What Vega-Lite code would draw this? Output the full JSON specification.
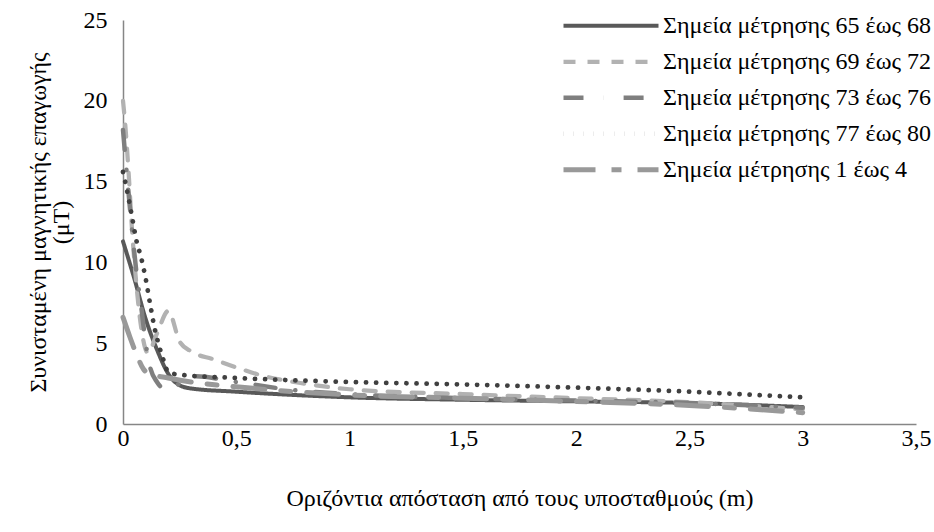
{
  "$schema": "https://vega.github.io/schema/vega-lite/v6.json",
  "autosize": "none",
  "width": 793,
  "height": 404,
  "padding": {"left": 123, "top": 20, "right": 18, "bottom": 108},
  "background": "white",
  "config": {
    "view": {"stroke": null},
    "font": "Liberation Serif",
    "axis": {"grid": false, "ticks": false, "domainColor": "#868686", "domainWidth": 1.5, "labelFont": "Liberation Serif", "titleFont": "Liberation Serif", "labelFontSize": 24, "titleFontSize": 24, "labelColor": "#000", "titleColor": "#000", "titleFontWeight": "normal"},
    "legend": {"labelFont": "Liberation Serif", "labelFontSize": 24, "labelColor": "#000", "labelLimit": 500}
  },
  "data": {"values": [
    {"s": "Σημεία μέτρησης 65 έως 68", "x": 0, "y": 11.3},
    {"s": "Σημεία μέτρησης 65 έως 68", "x": 0.05, "y": 9.0},
    {"s": "Σημεία μέτρησης 65 έως 68", "x": 0.1, "y": 6.5},
    {"s": "Σημεία μέτρησης 65 έως 68", "x": 0.15, "y": 4.6},
    {"s": "Σημεία μέτρησης 65 έως 68", "x": 0.2, "y": 3.1},
    {"s": "Σημεία μέτρησης 65 έως 68", "x": 0.25, "y": 2.4},
    {"s": "Σημεία μέτρησης 65 έως 68", "x": 0.3, "y": 2.2},
    {"s": "Σημεία μέτρησης 65 έως 68", "x": 0.5, "y": 2.0},
    {"s": "Σημεία μέτρησης 65 έως 68", "x": 1, "y": 1.65},
    {"s": "Σημεία μέτρησης 65 έως 68", "x": 1.5, "y": 1.5},
    {"s": "Σημεία μέτρησης 65 έως 68", "x": 2, "y": 1.4},
    {"s": "Σημεία μέτρησης 65 έως 68", "x": 2.5, "y": 1.3},
    {"s": "Σημεία μέτρησης 65 έως 68", "x": 3, "y": 1.05},
    {"s": "Σημεία μέτρησης 69 έως 72", "x": 0, "y": 20},
    {"s": "Σημεία μέτρησης 69 έως 72", "x": 0.01, "y": 18.5},
    {"s": "Σημεία μέτρησης 69 έως 72", "x": 0.025, "y": 15.5},
    {"s": "Σημεία μέτρησης 69 έως 72", "x": 0.04, "y": 12.0},
    {"s": "Σημεία μέτρησης 69 έως 72", "x": 0.06, "y": 8.5},
    {"s": "Σημεία μέτρησης 69 έως 72", "x": 0.08, "y": 6.0},
    {"s": "Σημεία μέτρησης 69 έως 72", "x": 0.11, "y": 4.4},
    {"s": "Σημεία μέτρησης 69 έως 72", "x": 0.15, "y": 5.6},
    {"s": "Σημεία μέτρησης 69 έως 72", "x": 0.2, "y": 7.0},
    {"s": "Σημεία μέτρησης 69 έως 72", "x": 0.25, "y": 5.1},
    {"s": "Σημεία μέτρησης 69 έως 72", "x": 0.3, "y": 4.5},
    {"s": "Σημεία μέτρησης 69 έως 72", "x": 0.4, "y": 4.0},
    {"s": "Σημεία μέτρησης 69 έως 72", "x": 0.5, "y": 3.5},
    {"s": "Σημεία μέτρησης 69 έως 72", "x": 0.6, "y": 3.05},
    {"s": "Σημεία μέτρησης 69 έως 72", "x": 0.8, "y": 2.5},
    {"s": "Σημεία μέτρησης 69 έως 72", "x": 1, "y": 2.15},
    {"s": "Σημεία μέτρησης 69 έως 72", "x": 1.5, "y": 1.85},
    {"s": "Σημεία μέτρησης 69 έως 72", "x": 2, "y": 1.6},
    {"s": "Σημεία μέτρησης 69 έως 72", "x": 2.5, "y": 1.35},
    {"s": "Σημεία μέτρησης 69 έως 72", "x": 3, "y": 0.9},
    {"s": "Σημεία μέτρησης 73 έως 76", "x": 0, "y": 18.2},
    {"s": "Σημεία μέτρησης 73 έως 76", "x": 0.02, "y": 15.0},
    {"s": "Σημεία μέτρησης 73 έως 76", "x": 0.04, "y": 12.0},
    {"s": "Σημεία μέτρησης 73 έως 76", "x": 0.06, "y": 9.3},
    {"s": "Σημεία μέτρησης 73 έως 76", "x": 0.08, "y": 7.3},
    {"s": "Σημεία μέτρησης 73 έως 76", "x": 0.1, "y": 5.0},
    {"s": "Σημεία μέτρησης 73 έως 76", "x": 0.12, "y": 3.5},
    {"s": "Σημεία μέτρησης 73 έως 76", "x": 0.15, "y": 2.6},
    {"s": "Σημεία μέτρησης 73 έως 76", "x": 0.18, "y": 2.2},
    {"s": "Σημεία μέτρησης 73 έως 76", "x": 0.21, "y": 2.2},
    {"s": "Σημεία μέτρησης 73 έως 76", "x": 0.25, "y": 2.5},
    {"s": "Σημεία μέτρησης 73 έως 76", "x": 0.32, "y": 2.95},
    {"s": "Σημεία μέτρησης 73 έως 76", "x": 0.5, "y": 2.6},
    {"s": "Σημεία μέτρησης 73 έως 76", "x": 0.75, "y": 2.1},
    {"s": "Σημεία μέτρησης 73 έως 76", "x": 1, "y": 1.85},
    {"s": "Σημεία μέτρησης 73 έως 76", "x": 1.5, "y": 1.6},
    {"s": "Σημεία μέτρησης 73 έως 76", "x": 2, "y": 1.45},
    {"s": "Σημεία μέτρησης 73 έως 76", "x": 2.5, "y": 1.3},
    {"s": "Σημεία μέτρησης 73 έως 76", "x": 3, "y": 1.0},
    {"s": "Σημεία μέτρησης 77 έως 80", "x": 0, "y": 15.6},
    {"s": "Σημεία μέτρησης 77 έως 80", "x": 0.02, "y": 14.3},
    {"s": "Σημεία μέτρησης 77 έως 80", "x": 0.04, "y": 12.8},
    {"s": "Σημεία μέτρησης 77 έως 80", "x": 0.06, "y": 11.3},
    {"s": "Σημεία μέτρησης 77 έως 80", "x": 0.08, "y": 10.3},
    {"s": "Σημεία μέτρησης 77 έως 80", "x": 0.1, "y": 9.0},
    {"s": "Σημεία μέτρησης 77 έως 80", "x": 0.12, "y": 7.4},
    {"s": "Σημεία μέτρησης 77 έως 80", "x": 0.14, "y": 5.9},
    {"s": "Σημεία μέτρησης 77 έως 80", "x": 0.16, "y": 4.8},
    {"s": "Σημεία μέτρησης 77 έως 80", "x": 0.18, "y": 3.9},
    {"s": "Σημεία μέτρησης 77 έως 80", "x": 0.2, "y": 3.2},
    {"s": "Σημεία μέτρησης 77 έως 80", "x": 0.25, "y": 3.05},
    {"s": "Σημεία μέτρησης 77 έως 80", "x": 0.5, "y": 2.85},
    {"s": "Σημεία μέτρησης 77 έως 80", "x": 1, "y": 2.6},
    {"s": "Σημεία μέτρησης 77 έως 80", "x": 1.5, "y": 2.45},
    {"s": "Σημεία μέτρησης 77 έως 80", "x": 2, "y": 2.25},
    {"s": "Σημεία μέτρησης 77 έως 80", "x": 2.5, "y": 2.0},
    {"s": "Σημεία μέτρησης 77 έως 80", "x": 3, "y": 1.65},
    {"s": "Σημεία μέτρησης 1 έως 4", "x": 0, "y": 6.6},
    {"s": "Σημεία μέτρησης 1 έως 4", "x": 0.03, "y": 5.4},
    {"s": "Σημεία μέτρησης 1 έως 4", "x": 0.06, "y": 4.3},
    {"s": "Σημεία μέτρησης 1 έως 4", "x": 0.09, "y": 3.4},
    {"s": "Σημεία μέτρησης 1 έως 4", "x": 0.12, "y": 3.1},
    {"s": "Σημεία μέτρησης 1 έως 4", "x": 0.2, "y": 2.85},
    {"s": "Σημεία μέτρησης 1 έως 4", "x": 0.3, "y": 2.6},
    {"s": "Σημεία μέτρησης 1 έως 4", "x": 0.5, "y": 2.3},
    {"s": "Σημεία μέτρησης 1 έως 4", "x": 1, "y": 1.8},
    {"s": "Σημεία μέτρησης 1 έως 4", "x": 1.5, "y": 1.6},
    {"s": "Σημεία μέτρησης 1 έως 4", "x": 2, "y": 1.4},
    {"s": "Σημεία μέτρησης 1 έως 4", "x": 2.5, "y": 1.15},
    {"s": "Σημεία μέτρησης 1 έως 4", "x": 3, "y": 0.7}
  ]},
  "mark": {"type": "line", "interpolate": "monotone", "strokeCap": "round", "strokeJoin": "round"},
  "encoding": {
    "x": {"field": "x", "type": "quantitative", "scale": {"domain": [0, 3.5], "nice": false},
      "axis": {"values": [0, 0.5, 1, 1.5, 2, 2.5, 3, 3.5], "labelExpr": "replace(toString(datum.value), '.', ',')", "labelPadding": 2, "title": "Οριζόντια απόσταση από τους υποσταθμούς (m)", "titlePadding": 36, "labelFlush": false}},
    "y": {"field": "y", "type": "quantitative", "scale": {"domain": [0, 25], "nice": false},
      "axis": {"values": [0, 5, 10, 15, 20, 25], "labelPadding": 16, "title": ["Συνισταμένη μαγνητικής επαγωγής", "(μT)"], "titleLineHeight": 23, "titlePadding": 10}},
    "color": {"field": "s", "type": "nominal", "sort": null,
      "scale": {"domain": ["Σημεία μέτρησης 65 έως 68", "Σημεία μέτρησης 69 έως 72", "Σημεία μέτρησης 73 έως 76", "Σημεία μέτρησης 77 έως 80", "Σημεία μέτρησης 1 έως 4"],
        "range": ["#595959", "#b2b2b2", "#7f7f7f", "#404040", "#999999"]},
      "legend": {"title": null, "orient": "none", "legendX": 438, "legendY": -12, "symbolType": "stroke", "symbolSize": 9025, "clipHeight": 35.5, "rowPadding": 0, "labelOffset": 2}},
    "strokeDash": {"field": "s", "type": "nominal", "sort": null,
      "scale": {"domain": ["Σημεία μέτρησης 65 έως 68", "Σημεία μέτρησης 69 έως 72", "Σημεία μέτρησης 73 έως 76", "Σημεία μέτρησης 77 έως 80", "Σημεία μέτρησης 1 έως 4"],
        "range": [[1, 0], [12, 12], [20, 20, 0.1, 20], [0.1, 10], [32, 16, 10, 16]]}},
    "strokeWidth": {"field": "s", "type": "nominal", "sort": null,
      "scale": {"domain": ["Σημεία μέτρησης 65 έως 68", "Σημεία μέτρησης 69 έως 72", "Σημεία μέτρησης 73 έως 76", "Σημεία μέτρησης 77 έως 80", "Σημεία μέτρησης 1 έως 4"],
        "range": [4, 5, 5, 4.5, 5]}}
  }
}
